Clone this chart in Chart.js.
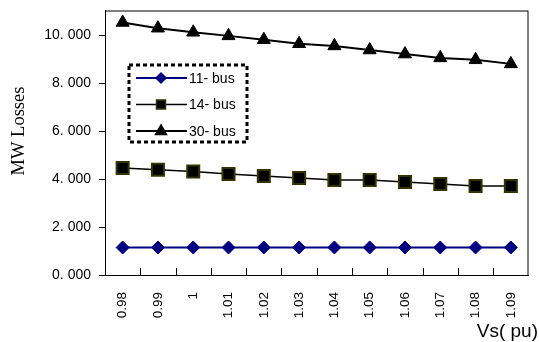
<!DOCTYPE html>
<html>
<head>
<meta charset="utf-8">
<script src="https://cdn.jsdelivr.net/npm/chart.js@4.4.1/dist/chart.umd.min.js"></script>
<style>
    body { margin: 0; background: #fff; }
</style>
</head>
<body>
<canvas id="lossChart" width="539" height="342"></canvas>
<script>
const voltages = ["0.98", "0.99", "1", "1.01", "1.02", "1.03", "1.04", "1.05", "1.06", "1.07", "1.08", "1.09"];
const bus11 = [1.15, 1.15, 1.15, 1.15, 1.15, 1.15, 1.15, 1.15, 1.15, 1.15, 1.15, 1.15];
const bus14 = [4.47, 4.40, 4.32, 4.22, 4.14, 4.05, 3.97, 3.97, 3.89, 3.80, 3.72, 3.72];
const bus30 = [10.55, 10.31, 10.14, 9.99, 9.83, 9.66, 9.57, 9.40, 9.23, 9.07, 8.99, 8.82];
const yTicks = [0, 2, 4, 6, 8, 10];
const xTitle = "Vs( pu)";
const yTitle = "MW Losses";

// frame round the plot + small inward ticks between categories
const framePlugin = {
    id: "frame",
    afterDatasetsDraw(chart) {
        const { ctx, chartArea: a, scales } = chart;
        const x = scales.x;
        ctx.save();
        ctx.strokeStyle = "#000";
        ctx.lineWidth = 1;
        ctx.strokeRect(a.left + 0.5, a.top + 0.5, a.right - a.left - 1, a.bottom - a.top);
        const half = (x.getPixelForValue(1) - x.getPixelForValue(0)) / 2;
        ctx.beginPath();
        for (let i = 0; i < voltages.length - 1; i++) {
            const px = Math.round(x.getPixelForValue(i) + half) + 0.5;
            ctx.moveTo(px, a.bottom);
            ctx.lineTo(px, a.bottom - 7);
        }
        ctx.stroke();
        ctx.restore();
    },
};

// axis titles (y one is serif, x one sits bottom right)
const titlesPlugin = {
    id: "titles",
    afterDraw(chart) {
        const ctx = chart.ctx;
        ctx.save();
        ctx.fillStyle = "#000";
        ctx.font = "18.5px 'Liberation Serif', 'Times New Roman', serif";
        ctx.textAlign = "center";
        ctx.textBaseline = "middle";
        ctx.translate(19, 131);
        ctx.rotate(-Math.PI / 2);
        ctx.fillText(yTitle, 0, 0);
        ctx.restore();

        ctx.save();
        ctx.fillStyle = "#000";
        ctx.font = "19px 'Liberation Sans', Arial, sans-serif";
        ctx.textAlign = "right";
        ctx.textBaseline = "alphabetic";
        ctx.fillText(xTitle, 538, 337);
        ctx.restore();
    },
};

// legend inside the plot with dashed border
const boxLegend = {
    id: "boxLegend",
    afterDraw(chart) {
        const ctx = chart.ctx;
        ctx.save();
        ctx.strokeStyle = "#000";
        ctx.lineWidth = 3;
        ctx.setLineDash([4, 3]);
        ctx.strokeRect(129, 65, 118, 77);
        ctx.setLineDash([]);
        ctx.font = "14px 'Liberation Sans', Arial, sans-serif";
        ctx.textBaseline = "middle";
        chart.data.datasets.forEach((ds, i) => {
            const y = 78 + i * 26.5;
            ctx.strokeStyle = ds.borderColor;
            ctx.lineWidth = ds.borderWidth;
            ctx.beginPath();
            ctx.moveTo(136, y);
            ctx.lineTo(187, y);
            ctx.stroke();
            const cx = 161;
            ctx.fillStyle = ds.pointBackgroundColor;
            ctx.strokeStyle = ds.pointBorderColor;
            ctx.lineWidth = 1.5;
            ctx.beginPath();
            if (ds.pointStyle === "rectRot") {
                ctx.moveTo(cx, y - 5); ctx.lineTo(cx + 5, y); ctx.lineTo(cx, y + 5); ctx.lineTo(cx - 5, y);
            } else if (ds.pointStyle === "rect") {
                ctx.rect(cx - 4.5, y - 4.5, 9, 9);
            } else {
                ctx.moveTo(cx, y - 6); ctx.lineTo(cx + 5.5, y + 3.5); ctx.lineTo(cx - 5.5, y + 3.5);
            }
            ctx.closePath();
            ctx.fill();
            ctx.stroke();
            ctx.fillStyle = "#000";
            ctx.fillText(ds.label, 189, y + 1);
        });
        ctx.restore();
    },
};

new Chart(document.getElementById("lossChart").getContext("2d"), {
    type: "line",
    data: {
        labels: voltages,
        datasets: [
            {
                label: "11- bus",
                data: bus11,
                borderColor: "#000080",
                borderWidth: 2,
                pointStyle: "rectRot",
                pointRadius: 6.5,
                pointBackgroundColor: "#000080",
                pointBorderColor: "#000080",
                pointBorderWidth: 1,
            },
            {
                label: "14- bus",
                data: bus14,
                borderColor: "#000",
                borderWidth: 1.5,
                pointStyle: "rect",
                pointRadius: 8.5,
                pointBackgroundColor: "#000",
                pointBorderColor: "#333300",
                pointBorderWidth: 2,
            },
            {
                label: "30- bus",
                data: bus30,
                borderColor: "#000",
                borderWidth: 2,
                pointStyle: "triangle",
                pointRadius: 7.5,
                pointBackgroundColor: "#000",
                pointBorderColor: "#000",
                pointBorderWidth: 1,
            },
        ],
    },
    options: {
        responsive: false,
        animation: false,
        layout: { padding: { top: 9, right: 8, left: 0, bottom: 0 } },
        plugins: {
            legend: { display: false },
            tooltip: { enabled: false },
        },
        scales: {
            x: {
                type: "category",
                offset: true,
                grid: { display: false, drawTicks: false, offset: true },
                border: { display: true, color: "#000" },
                ticks: {
                    minRotation: 90,
                    maxRotation: 90,
                    padding: 17,
                    color: "#000",
                    font: { family: "'Liberation Sans', Arial", size: 13.5 },
                },
                afterFit(scale) {
                    scale.height = 67;
                    scale.paddingLeft = 0;
                    scale.paddingRight = 0;
                },
            },
            y: {
                min: 0,
                max: 11.05,
                grid: { drawOnChartArea: false, drawTicks: true, tickLength: 6, color: "#000" },
                border: { display: true, color: "#000" },
                afterBuildTicks(scale) {
                    scale.ticks = yTicks.map((v) => ({ value: v }));
                },
                ticks: {
                    padding: 8,
                    color: "#000",
                    font: { family: "'Liberation Sans', Arial", size: 14 },
                    callback: (v) => v.toFixed(3).replace(".", ". "),
                },
                afterFit(scale) {
                    scale.width = 105;
                    scale.paddingTop = 0;
                    scale.paddingBottom = 0;
                },
            },
        },
    },
    plugins: [framePlugin, titlesPlugin, boxLegend],
});
</script>
</body>
</html>
